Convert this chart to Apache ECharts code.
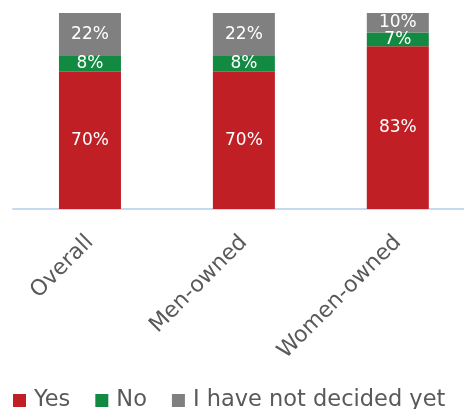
<!DOCTYPE html>
<html>
<head>
<meta charset="utf-8">
<script src="https://cdn.jsdelivr.net/npm/echarts@6/dist/echarts.min.js"></script>
<style>
  html, body { margin: 0; padding: 0; background: #ffffff; }
  #chart { width: 464px; height: 409px; }
</style>
</head>
<body>
<div id="chart"></div>
<script>
// Survey answers by business ownership (percent of respondents)
const categories = ['Overall', 'Men-owned', 'Women-owned'];
const yesValues = [70, 70, 83];
const noValues = [8, 8, 7];
const undecidedValues = [22, 22, 10];
const seriesNames = ['Yes', 'No', 'I have not decided yet'];

const FONT = '"DejaVu Sans", sans-serif';
const colors = ['#C01F26', '#138A42', '#808080'];
const categoryIndex = categories.map((c, i) => i);

const chart = echarts.init(document.getElementById('chart'), null, { renderer: 'canvas' });

// each row is [percent, category index]; the percent dimension comes first so it is the one stacked
function barSeries(name, values, color) {
  return {
    name: name,
    type: 'bar',
    stack: 'total',
    barWidth: 62,
    data: values.map((v, i) => [v, i]),
    encode: { x: 1, y: 0 },
    itemStyle: { color: color },
    label: {
      show: true,
      position: 'inside',
      color: '#ffffff',
      fontFamily: FONT,
      fontSize: 17,
      formatter: p => p.value[0] + '%'
    }
  };
}

chart.setOption({
  animation: false,
  color: colors,
  grid: { left: 13, top: 13, right: 0, bottom: 200, containLabel: false },
  legend: {
    left: 13,
    top: 389,
    padding: 0,
    icon: 'rect',
    itemWidth: 13,
    itemHeight: 13,
    itemGap: 25,
    textStyle: { color: '#595959', fontFamily: FONT, fontSize: 22.5, padding: [0, 0, 0, 3] },
    data: seriesNames
  },
  // category positions on a numeric axis; the plot stops just short of the third band's end
  xAxis: {
    type: 'value',
    min: -0.5,
    max: 2.43,
    splitLine: { show: false },
    axisLine: { show: true, onZero: false, lineStyle: { color: '#C5DAEF', width: 2 } },
    axisTick: { show: false },
    axisLabel: {
      customValues: categoryIndex,
      formatter: v => categories[Math.round(v)] || '',
      rotate: 45,
      margin: 30,
      color: '#595959',
      fontFamily: FONT,
      fontSize: 22
    }
  },
  yAxis: {
    type: 'value',
    min: 0,
    max: 100,
    show: false,
    splitLine: { show: false }
  },
  series: [
    barSeries(seriesNames[0], yesValues, colors[0]),
    barSeries(seriesNames[1], noValues, colors[1]),
    barSeries(seriesNames[2], undecidedValues, colors[2])
  ]
});
</script>
</body>
</html>
